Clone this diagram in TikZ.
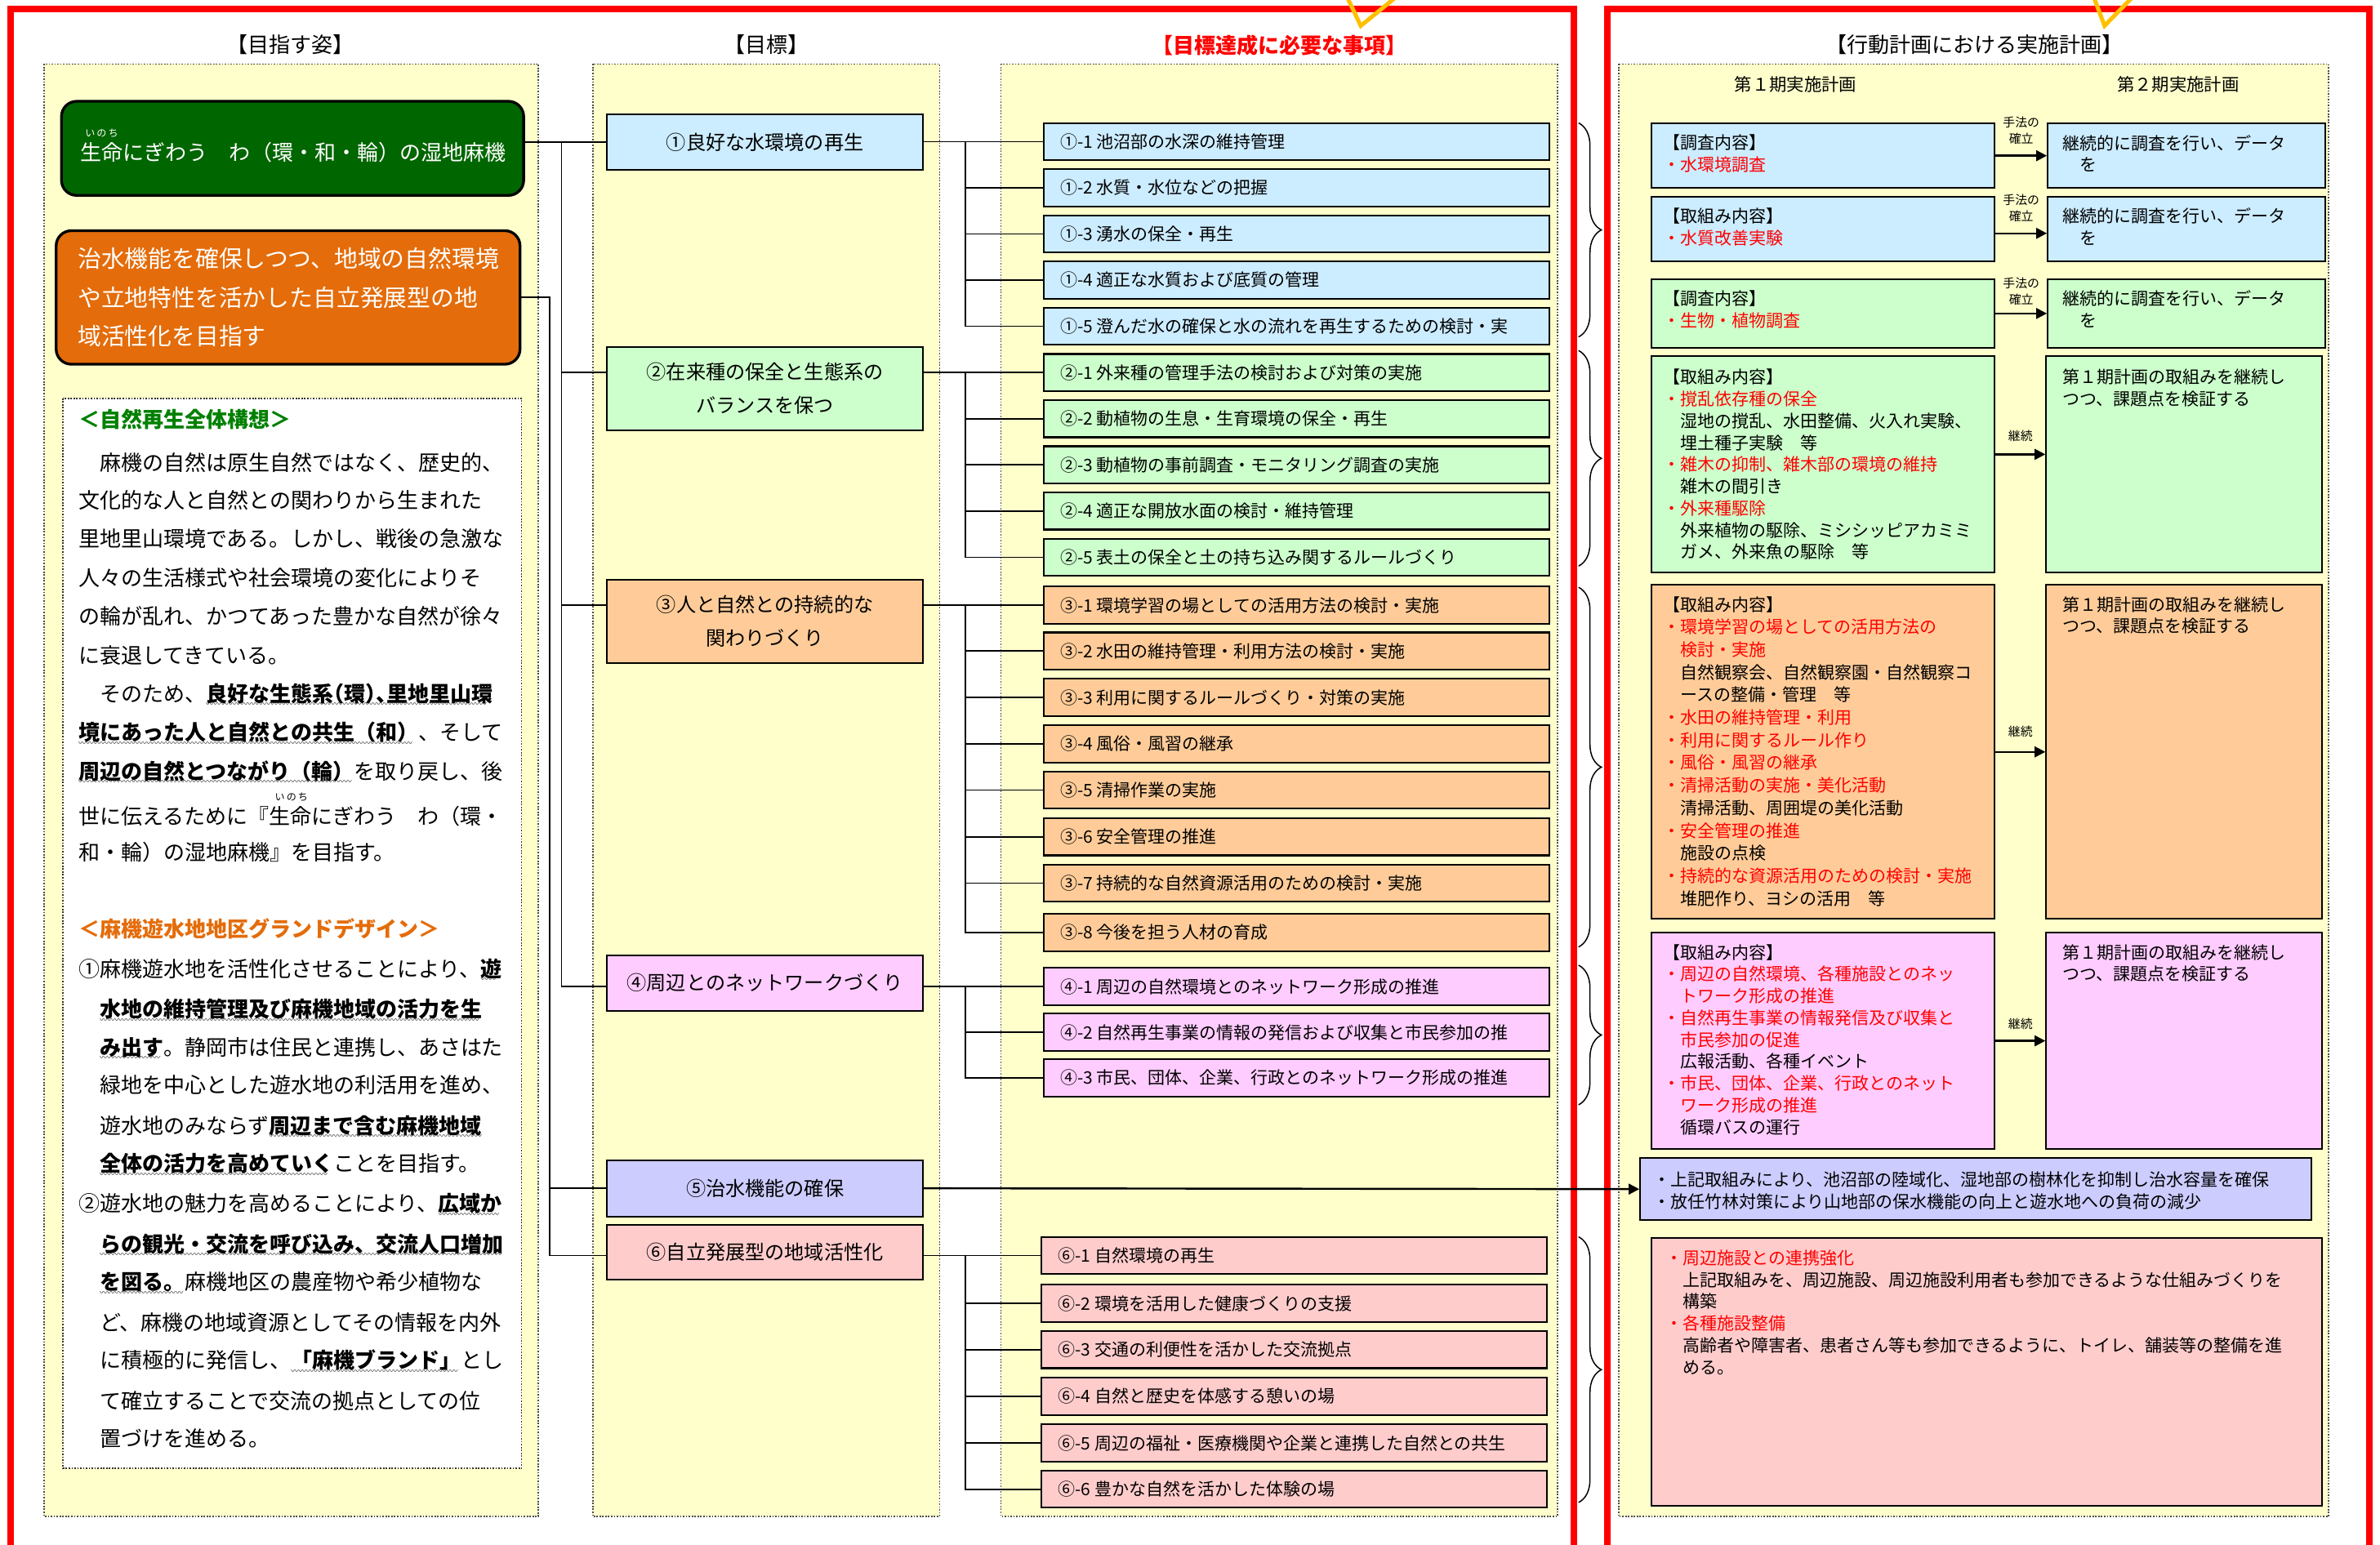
\documentclass[tikz,border=0pt]{standalone}
\usepackage{fontspec}
\setmainfont{Noto Sans CJK JP}
\usetikzlibrary{arrows.meta,positioning,decorations.pathreplacing}

\definecolor{paneyel}{HTML}{FFFFCC}
\definecolor{cblue}{HTML}{CCECFF}
\definecolor{cgreen}{HTML}{CCFFCC}
\definecolor{corange}{HTML}{FFCC99}
\definecolor{cpink}{HTML}{FFCCFF}
\definecolor{clav}{HTML}{CCCCFF}
\definecolor{csalmon}{HTML}{FFCCCC}
\definecolor{dkgreen}{HTML}{006600}
\definecolor{hdgreen}{HTML}{008000}
\definecolor{burnt}{HTML}{E46C0A}
\definecolor{vgold}{HTML}{FFC000}

\newsavebox\uwbox
\newcommand\uwb[1]{\sbox\uwbox{\bfseries #1}\rlap{\raisebox{-3.5pt}{\hbox to \wd\uwbox{\fontsize{5}{5}\selectfont\leaders\hbox{〰}\hfill}}}\usebox\uwbox}
\newcommand\hw[1]{{\addfontfeatures{RawFeature=+halt}#1}}
\newcommand\redt[1]{\textcolor{red}{#1}}
\newcommand\itm[1]{\makebox[311pt][l]{#1}}

\tikzset{
    panel/.style={draw=black!70, densely dotted, line width=0.9pt, fill=paneyel},
    frame/.style={draw=red, line width=4pt},
    vmark/.style={draw=vgold, line width=2.7pt},
    rbox/.style={draw, line width=1.8pt, rounded corners=10pt, inner sep=0},
    wbox/.style={draw=black!80, densely dotted, line width=0.9pt, fill=white},
    hdr/.style={inner sep=0, font=\fontsize{14}{16}\selectfont},
    body/.style={anchor=west, inner sep=0, text height=12.3pt, text depth=1.7pt, font=\fontsize{14}{14}\selectfont},
    goal/.style={draw, line width=1.1pt, minimum width=208, align=center, inner sep=0, font=\fontsize{13}{22}\selectfont},
    item/.style={draw, line width=1.1pt, anchor=north west, minimum width=333, minimum height=24.5, inner xsep=11, inner ysep=0, font=\fontsize{11.3}{13}\selectfont},
    plan/.style={draw, line width=1.1pt, anchor=north west, inner sep=0},
    ptext/.style={inner sep=0, align=left, font=\fontsize{11.3}{14.4}\selectfont},
    lbl/.style={inner sep=0, align=center, font=\fontsize{8}{10.5}\selectfont},
    arr/.style={line width=1.3pt, -{Triangle[length=7pt,width=7pt]}},
    link/.style={line width=0.9pt},
    brc/.style={decorate, decoration={brace, amplitude=15pt}, line width=0.8pt}
}

\begin{document}
\begin{tikzpicture}[x=1pt, y=-1pt]
    \useasboundingbox (0,0) rectangle (1568,1018);
    \clip (0,0) rectangle (1568,1018);

    \draw[panel] (29.2,42.2) rectangle (354.6,999.3);
    \draw[panel] (390.6,42.2) rectangle (619,999.3);
    \draw[panel] (659.5,42.2) rectangle (1026,999.3);
    \draw[panel] (1066.4,42.2) rectangle (1534,999.3);

    \draw[frame] (7,1030) |- (1037,6) -- (1037,1030);
    \draw[frame] (1059,1030) |- (1561,6) -- (1561,1030);
    \draw[vmark] (887,-3) -- (896.5,17) -- (921,-3);
    \draw[vmark] (1379,-3) -- (1386.5,17) -- (1406,-3);

    \node[hdr] (h1) at (191.5,29.6) {【目指す姿】};
    \node[hdr] (h2) at (505,29.6) {【目標】};
    \node[hdr, text=red, font=\bfseries\fontsize{14}{16}\selectfont] (h3) at (843,30) {【目標達成に必要な事項】};
    \node[hdr] (h4) at (1301,29.6) {【行動計画における実施計画】};

    % left column
    \node[rbox, fill=dkgreen, minimum width=304.5, minimum height=62] (gbox) at (192.75,97.75) {};
    \node[body, text=white] (gtxt) at (53,100.5) {生命にぎわう　わ（環・和・輪）の湿地麻機};
    \node[inner sep=0, text=white, font=\fontsize{6.5}{7}\selectfont] (gruby) at (67,88) {い\,の\,ち};
    \node[rbox, fill=burnt, minimum width=305.6, minimum height=88, text width=277, align=left, text=white, font=\fontsize{15.5}{25.5}\selectfont] (obox) at (189.8,196) {治水機能を確保しつつ、地域の自然環境\\や立地特性を活かした自立発展型の地\\域活性化を目指す};

    \draw[wbox] (41.5,262.5) rectangle (343.6,967.5);
    \node[body, text=hdgreen, font=\bfseries\fontsize{14}{14}\selectfont] (s1) at (51.5,276.4) {＜自然再生全体構想＞};
    \node[body] (s1a) at (51.5,305) {　麻機の自然は原生自然ではなく、歴史的、};
    \node[body] (s1b) at (51.5,329.5) {文化的な人と自然との関わりから生まれた};
    \node[body] (s1c) at (51.5,355) {里地里山環境である。しかし、戦後の急激な};
    \node[body] (s1d) at (51.5,380.6) {人々の生活様式や社会環境の変化によりそ};
    \node[body] (s1e) at (51.5,406) {の輪が乱れ、かつてあった豊かな自然が徐々};
    \node[body] (s1f) at (51.5,431.7) {に衰退してきている。};
    \node[body] (s1g) at (51.5,457) {　そのため、\uwb{良好な生態系\hw{（}環\hw{）、}里地里山環}};
    \node[body] (s1h) at (51.5,482.7) {\uwb{境にあった人と自然との共生（和）}、そして};
    \node[body] (s1i) at (51.5,508.2) {\uwb{周辺の自然とつながり（輪）}を取り戻し、後};
    \node[inner sep=0, font=\fontsize{6.5}{7}\selectfont] (s1r) at (192,525.5) {い\,の\,ち};
    \node[body] (s1j) at (51.5,538) {世に伝えるために『生命にぎわう　わ（環・};
    \node[body] (s1k) at (51.5,561.5) {和・輪）の湿地麻機』を目指す。};

    \node[body, text=burnt, font=\bfseries\fontsize{14}{14}\selectfont] (s2) at (51.5,612) {＜麻機遊水地地区グランドデザイン＞};
    \node[body] (s2a) at (51.5,638.4) {①麻機遊水地を活性化させることにより、\uwb{遊}};
    \node[body] (s2b) at (65.5,665) {\uwb{水地の維持管理及び麻機地域の活力を生}};
    \node[body] (s2c) at (65.5,690) {\uwb{み出す}。静岡市は住民と連携し、あさはた};
    \node[body] (s2d) at (65.5,715) {緑地を中心とした遊水地の利活用を進め、};
    \node[body] (s2e) at (65.5,741.6) {遊水地のみならず\uwb{周辺まで含む麻機地域}};
    \node[body] (s2f) at (65.5,766.7) {\uwb{全体の活力を高めていく}ことを目指す。};
    \node[body] (s2g) at (51.5,793.2) {②遊水地の魅力を高めることにより、\uwb{広域か}};
    \node[body] (s2h) at (65.5,819.7) {\uwb{らの観光・交流を呼び込み、交流人口増加}};
    \node[body] (s2i) at (65.5,844.8) {\uwb{を図る。}麻機地区の農産物や希少植物な};
    \node[body] (s2j) at (65.5,871.3) {ど、麻機の地域資源としてその情報を内外};
    \node[body] (s2k) at (65.5,896.4) {に積極的に発信し、\uwb{「麻機ブランド」}とし};
    \node[body] (s2l) at (65.5,922.9) {て確立することで交流の拠点としての位};
    \node[body] (s2m) at (65.5,948) {置づけを進める。};

    % goals
    \node[goal, fill=cblue, minimum height=36.8] (g1) at (504,93.7) {①良好な水環境の再生};
    \node[goal, fill=cgreen, minimum height=55] (g2) at (504,256) {②在来種の保全と生態系の\\バランスを保つ};
    \node[goal, fill=corange, minimum height=55] (g3) at (504,409.5) {③人と自然との持続的な\\関わりづくり};
    \node[goal, fill=cpink, minimum height=36.5] (g4) at (504,647.7) {④周辺とのネットワークづくり};
    \node[goal, fill=clav, minimum height=37] (g5) at (504,783) {⑤治水機能の確保};
    \node[goal, fill=csalmon, minimum height=36] (g6) at (504,825) {⑥自立発展型の地域活性化};

    % items
    \node[item, fill=cblue] (it11) at (687,80.5) {\itm{①-1 池沼部の水深の維持管理}};
    \node[item, fill=cblue] (it12) at (687,110.9) {\itm{①-2 水質・水位などの把握}};
    \node[item, fill=cblue] (it13) at (687,141.3) {\itm{①-3 湧水の保全・再生}};
    \node[item, fill=cblue] (it14) at (687,171.7) {\itm{①-4 適正な水質および底質の管理}};
    \node[item, fill=cblue] (it15) at (687,202.1) {\itm{①-5 澄んだ水の確保と水の流れを再生するための検討・実}};
    \node[item, fill=cgreen] (it21) at (687,232.7) {\itm{②-1 外来種の管理手法の検討および対策の実施}};
    \node[item, fill=cgreen] (it22) at (687,263.1) {\itm{②-2 動植物の生息・生育環境の保全・再生}};
    \node[item, fill=cgreen] (it23) at (687,293.5) {\itm{②-3 動植物の事前調査・モニタリング調査の実施}};
    \node[item, fill=cgreen] (it24) at (687,323.9) {\itm{②-4 適正な開放水面の検討・維持管理}};
    \node[item, fill=cgreen] (it25) at (687,354.4) {\itm{②-5 表土の保全と土の持ち込み関するルールづくり}};
    \node[item, fill=corange] (it31) at (687,386) {\itm{③-1 環境学習の場としての活用方法の検討・実施}};
    \node[item, fill=corange] (it32) at (687,416.2) {\itm{③-2 水田の維持管理・利用方法の検討・実施}};
    \node[item, fill=corange] (it33) at (687,446.8) {\itm{③-3 利用に関するルールづくり・対策の実施}};
    \node[item, fill=corange] (it34) at (687,477.3) {\itm{③-4 風俗・風習の継承}};
    \node[item, fill=corange] (it35) at (687,507.8) {\itm{③-5 清掃作業の実施}};
    \node[item, fill=corange] (it36) at (687,538.6) {\itm{③-6 安全管理の推進}};
    \node[item, fill=corange] (it37) at (687,569.2) {\itm{③-7 持続的な自然資源活用のための検討・実施}};
    \node[item, fill=corange] (it38) at (687,601.6) {\itm{③-8 今後を担う人材の育成}};
    \node[item, fill=cpink] (it41) at (687,637.3) {\itm{④-1 周辺の自然環境とのネットワーク形成の推進}};
    \node[item, fill=cpink] (it42) at (687,667.4) {\itm{④-2 自然再生事業の情報の発信および収集と市民参加の推}};
    \node[item, fill=cpink] (it43) at (687,697.4) {\itm{④-3 市民、団体、企業、行政とのネットワーク形成の推進}};
    \node[item, fill=csalmon] (it61) at (685.5,814.5) {\itm{⑥-1 自然環境の再生}};
    \node[item, fill=csalmon] (it62) at (685.5,846) {\itm{⑥-2 環境を活用した健康づくりの支援}};
    \node[item, fill=csalmon] (it63) at (685.5,876.5) {\itm{⑥-3 交通の利便性を活かした交流拠点}};
    \node[item, fill=csalmon] (it64) at (685.5,907.3) {\itm{⑥-4 自然と歴史を体感する憩いの場}};
    \node[item, fill=csalmon] (it65) at (685.5,938) {\itm{⑥-5 周辺の福祉・医療機関や企業と連携した自然との共生}};
    \node[item, fill=csalmon] (it66) at (685.5,968.5) {\itm{⑥-6 豊かな自然を活かした体験の場}};

    % connectors
    \coordinate (t1) at (370,0);
    \coordinate (t2) at (362,0);
    \coordinate (jx) at (636,0);
    \draw[link] (gbox.east |- g1.west) -- (g1.west);
    \draw[link] (t1 |- g1.west) |- (g4.west |- it41.west);
    \draw[link] (t1 |- it21.west) -- (g2.west |- it21.west);
    \draw[link] (t1 |- it31.west) -- (g3.west |- it31.west);
    \draw[link] (obox.east) -| (t2 |- it61.west) -- (g6.west |- it61.west);
    \draw[link] (t2 |- g5.west) -- (g5.west);

    \draw[link] (g1.east |- it11.west) -- (it11.west);
    \draw[link] (jx |- it11.west) |- (it15.west);
    \foreach \k in {2,3,4} \draw[link] (jx |- it1\k.west) -- (it1\k.west);
    \draw[link] (g2.east |- it21.west) -- (it21.west);
    \draw[link] (jx |- it21.west) |- (it25.west);
    \foreach \k in {2,3,4} \draw[link] (jx |- it2\k.west) -- (it2\k.west);
    \draw[link] (g3.east |- it31.west) -- (it31.west);
    \draw[link] (jx |- it31.west) |- (it38.west);
    \foreach \k in {2,...,7} \draw[link] (jx |- it3\k.west) -- (it3\k.west);
    \draw[link] (g4.east |- it41.west) -- (it41.west);
    \draw[link] (jx |- it41.west) |- (it43.west);
    \draw[link] (jx |- it42.west) -- (it42.west);
    \draw[link] (g6.east |- it61.west) -- (it61.west);
    \draw[link] (jx |- it61.west) |- (it66.west);
    \foreach \k in {2,...,5} \draw[link] (jx |- it6\k.west) -- (it6\k.west);

    \draw[brc] (1040,81) -- (1040,222);
    \draw[brc] (1040,231) -- (1040,373);
    \draw[brc] (1040,387) -- (1040,624);
    \draw[brc] (1040,636) -- (1040,728);
    \draw[brc] (1040,815) -- (1040,990);

    % action plan
    \node[hdr, font=\fontsize{11.5}{13}\selectfont] (p1) at (1183,55.7) {第１期実施計画};
    \node[hdr, font=\fontsize{11.5}{13}\selectfont] (p2) at (1435,55.7) {第２期実施計画};

    \node[plan, fill=cblue, minimum width=226.1, minimum height=42.7] (l1) at (1087.5,80.7) {};
    \node[plan, fill=cblue, minimum width=183, minimum height=42.7] (r1) at (1348.5,80.7) {};
    \node[plan, fill=cblue, minimum width=226.1, minimum height=42.4] (l2) at (1087.5,129) {};
    \node[plan, fill=cblue, minimum width=183, minimum height=42.4] (r2) at (1348.5,129) {};
    \node[plan, fill=cgreen, minimum width=226.1, minimum height=45.4] (l3) at (1087.5,183.3) {};
    \node[plan, fill=cgreen, minimum width=183, minimum height=45.4] (r3) at (1348.5,183.3) {};
    \node[plan, fill=cgreen, minimum width=226.1, minimum height=142.7] (l4) at (1087.5,234) {};
    \node[plan, fill=cgreen, minimum width=181.5, minimum height=142.7] (r4) at (1347.5,234) {};
    \node[plan, fill=corange, minimum width=226.1, minimum height=220.2] (l5) at (1087.5,384.8) {};
    \node[plan, fill=corange, minimum width=181.5, minimum height=220.2] (r5) at (1347.5,384.8) {};
    \node[plan, fill=cpink, minimum width=226.1, minimum height=142.6] (l6) at (1087.5,614) {};
    \node[plan, fill=cpink, minimum width=181.5, minimum height=142.6] (r6) at (1347.5,614) {};
    \node[plan, fill=clav, minimum width=442, minimum height=40.8] (r7) at (1080,762.6) {};
    \node[plan, fill=csalmon, minimum width=441.4, minimum height=176.3] (r8) at (1087.6,815.4) {};

    \node[ptext, below right=8pt and 8pt of l1.north west] (l1t) {【調査内容】\\\redt{・水環境調査}};
    \node[ptext, below right=8pt and 10pt of r1.north west] (r1t) {継続的に調査を行い、データ\\　を};
    \node[ptext, below right=8pt and 8pt of l2.north west] (l2t) {【取組み内容】\\\redt{・水質改善実験}};
    \node[ptext, below right=8pt and 10pt of r2.north west] (r2t) {継続的に調査を行い、データ\\　を};
    \node[ptext, below right=8pt and 8pt of l3.north west] (l3t) {【調査内容】\\\redt{・生物・植物調査}};
    \node[ptext, below right=8pt and 10pt of r3.north west] (r3t) {継続的に調査を行い、データ\\　を};
    \node[ptext, below right=9pt and 8pt of l4.north west] (l4t) {【取組み内容】\\\redt{・撹乱依存種の保全}\\　湿地の撹乱、水田整備、火入れ実験、\\　埋土種子実験　等\\\redt{・雑木の抑制、雑木部の環境の維持}\\　雑木の間引き\\\redt{・外来種駆除}\\　外来植物の駆除、ミシシッピアカミミ\\　ガメ、外来魚の駆除　等};
    \node[ptext, below right=9pt and 11pt of r4.north west] (r4t) {第１期計画の取組みを継続し\\つつ、課題点を検証する};
    \node[ptext, font=\fontsize{11.3}{14.9}\selectfont, below right=8pt and 8pt of l5.north west] (l5t) {【取組み内容】\\\redt{・環境学習の場としての活用方法の}\\\redt{　検討・実施}\\　自然観察会、自然観察園・自然観察コ\\　ースの整備・管理　等\\\redt{・水田の維持管理・利用}\\\redt{・利用に関するルール作り}\\\redt{・風俗・風習の継承}\\\redt{・清掃活動の実施・美化活動}\\　清掃活動、周囲堤の美化活動\\\redt{・安全管理の推進}\\　施設の点検\\\redt{・持続的な資源活用のための検討・実施}\\　堆肥作り、ヨシの活用　等};
    \node[ptext, below right=8pt and 11pt of r5.north west] (r5t) {第１期計画の取組みを継続し\\つつ、課題点を検証する};
    \node[ptext, below right=8pt and 8pt of l6.north west] (l6t) {【取組み内容】\\\redt{・周辺の自然環境、各種施設とのネッ}\\\redt{　トワーク形成の推進}\\\redt{・自然再生事業の情報発信及び収集と}\\\redt{　市民参加の促進}\\　広報活動、各種イベント\\\redt{・市民、団体、企業、行政とのネット}\\\redt{　ワーク形成の推進}\\　循環バスの運行};
    \node[ptext, below right=8pt and 11pt of r6.north west] (r6t) {第１期計画の取組みを継続し\\つつ、課題点を検証する};
    \node[ptext, below right=9.5pt and 9pt of r7.north west] (r7t) {・上記取組みにより、池沼部の陸域化、湿地部の樹林化を抑制し治水容量を確保\\・放任竹林対策により山地部の保水機能の向上と遊水地への負荷の減少};
    \node[ptext, below right=8pt and 9.5pt of r8.north west] (r8t) {\redt{・周辺施設との連携強化}\\　上記取組みを、周辺施設、周辺施設利用者も参加できるような仕組みづくりを\\　構築\\\redt{・各種施設整備}\\　高齢者や障害者、患者さん等も参加できるように、トイレ、舗装等の整備を進\\　める。};

    \draw[arr] (l1.east) -- (r1.west) node[lbl, midway, above=7pt] (m1) {手法の\\確立};
    \draw[arr] ([yshift=-3pt]l2.east) -- ([yshift=-3pt]r2.west) node[lbl, midway, above=7pt] (m2) {手法の\\確立};
    \draw[arr] (l3.east) -- (r3.west) node[lbl, midway, above=5pt] (m3) {手法の\\確立};
    \draw[arr] ([yshift=6.5pt]l4.east) -- ([yshift=6.5pt]r4.west) node[lbl, midway, above=8pt] (m4) {継続};
    \draw[arr] (l5.east) -- (r5.west) node[lbl, midway, above=9pt] (m5) {継続};
    \draw[arr] (l6.east) -- (r6.west) node[lbl, midway, above=7pt] (m6) {継続};
    \draw[arr] (g5.east) -- (r7.west);
\end{tikzpicture}
\end{document}
